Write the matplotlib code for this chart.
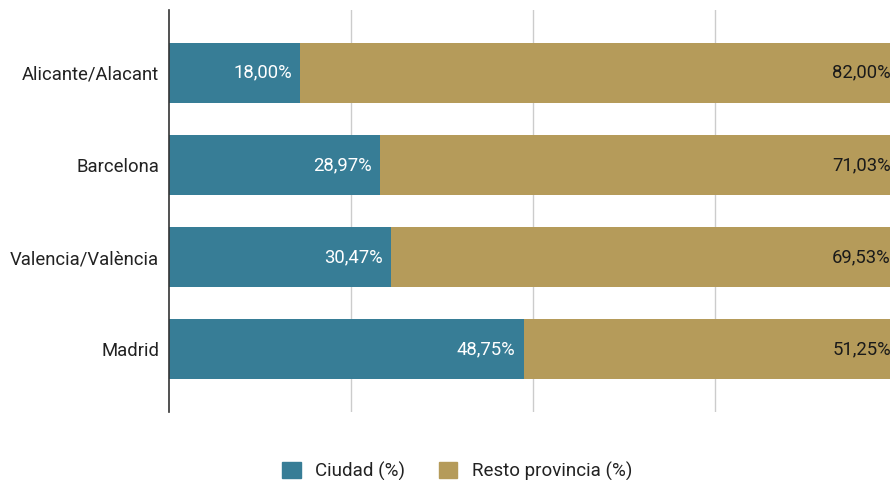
import matplotlib
matplotlib.use("Agg")
import matplotlib.pyplot as plt
from matplotlib.patches import Patch

categories = ["Alicante/Alacant", "Barcelona", "Valencia/València", "Madrid"]
ciudad = [18.00, 28.97, 30.47, 48.75]
resto = [82.00, 71.03, 69.53, 51.25]
series_names = ["Ciudad (%)", "Resto provincia (%)"]
colors = ["#377d96", "#b59b5a"]

plt.rcParams['font.family'] = ['Roboto', 'DejaVu Sans']
FS = 13.3

fig = plt.figure(figsize=(8.9, 4.8), dpi=100)
ax = fig.add_axes([169/890, 1-412/480, 728/890, 402/480])

y = list(range(len(categories)))
h = 0.65
ax.barh(y, ciudad, height=h, color=colors[0], zorder=3)
ax.barh(y, resto, left=ciudad, height=h, color=colors[1], zorder=3)

fmt = lambda v: f"{v:.2f}".replace(".", ",") + "%"
for yi, c, r in zip(y, ciudad, resto):
    ax.annotate(fmt(c), (c, yi), xytext=(-6, 0), textcoords="offset points",
                ha="right", va="center", color="white", fontsize=FS, zorder=4)
    ax.annotate(fmt(r), (c + r, yi), xytext=(-4.5, 0), textcoords="offset points",
                ha="right", va="center", color="#1a1a1a", fontsize=FS, zorder=4,
                annotation_clip=False)

ax.set_xlim(0, 100)
ax.set_ylim(3.68, -0.68)
ax.set_yticks(y)
ax.set_yticklabels(categories, fontsize=FS, color="#222222")
ax.tick_params(axis="y", length=0, pad=7)
ax.set_xticks([25, 50, 75, 100])
ax.tick_params(axis="x", length=0, labelbottom=False)
ax.grid(axis="x", color="#cccccc", linewidth=1, zorder=0)
for s in ["top", "right", "bottom"]:
    ax.spines[s].set_visible(False)
ax.spines["left"].set_color("#333333")
ax.spines["left"].set_linewidth(1.2)
ax.spines["left"].set_zorder(5)

handles = [Patch(color=colors[0], label=series_names[0]),
           Patch(color=colors[1], label=series_names[1])]
fig.legend(handles=handles, loc="center", bbox_to_anchor=(457/890, 1-471/480),
           ncol=2, frameon=False, fontsize=13.5, handlelength=1.0, handleheight=1.0,
           columnspacing=1.8, handletextpad=0.75, labelcolor="#222222")

fig.savefig("out.png", dpi=100)
